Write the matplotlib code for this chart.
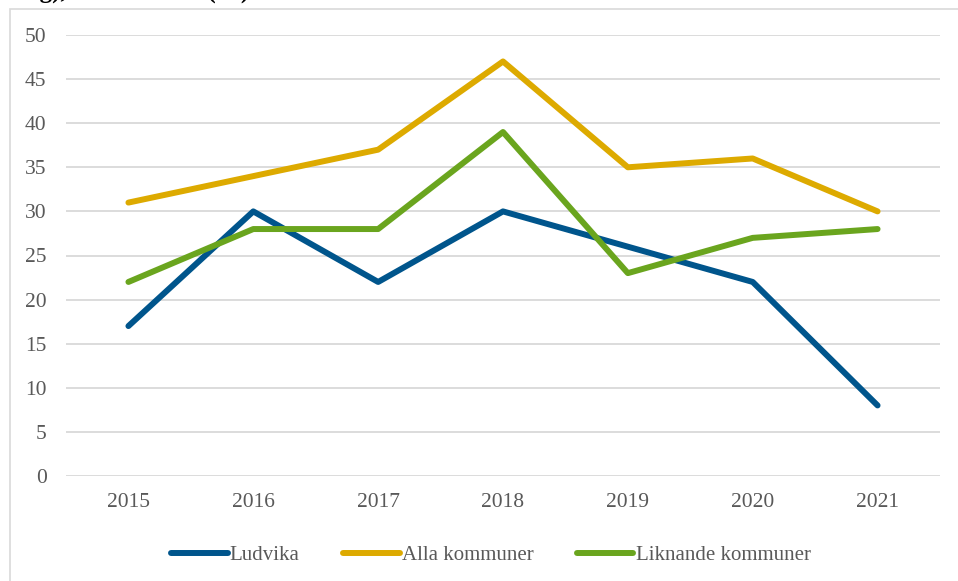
import matplotlib
matplotlib.use("Agg")
import matplotlib.pyplot as plt
from matplotlib.patches import Rectangle

years = ["2015", "2016", "2017", "2018", "2019", "2020", "2021"]
ludvika = [17, 30, 22, 30, 26, 22, 8]
alla = [31, 34, 37, 47, 35, 36, 30]
liknande = [22, 28, 28, 39, 23, 27, 28]
series_names = ["Ludvika", "Alla kommuner", "Liknande kommuner"]
yticks = [0, 5, 10, 15, 20, 25, 30, 35, 40, 45, 50]

colors = ["#00558C", "#DDAA00", "#6AA51E"]
W, H = 958, 581
fig = plt.figure(figsize=(W / 100, H / 100), dpi=100)
fig.patch.set_facecolor("white")

# outer frame
fig.patches.append(Rectangle((10 / W, -0.01), 1.0, (H - 9) / H + 0.01, transform=fig.transFigure,
                             fill=False, edgecolor="#D9D9D9", linewidth=1.2))

# cut-off title at the top (only the lower part is visible in the reference)
fig.text(5 / W, 1 + 2 / H, "ning), andel elever (%)", family="Liberation Serif", fontweight="bold",
         fontsize=18, color="black", va="baseline", ha="left")

ax = fig.add_axes([66 / W, 1 - 476 / H, (940 - 66) / W, (476 - 35) / H])
x = list(range(len(years)))
for vals, c, name in zip([ludvika, alla, liknande], colors, series_names):
    ax.plot(x, vals, color=c, linewidth=4.3, solid_capstyle="round", solid_joinstyle="round",
            label=name, zorder=3)

ax.set_xlim(-0.5, len(years) - 0.5)
ax.set_ylim(0, 50)
ax.set_yticks(yticks)
ax.set_yticklabels([str(v) for v in yticks])
ax.set_xticks(x)
ax.set_xticklabels(years)
for s in ax.spines.values():
    s.set_visible(False)
ax.grid(axis="y", color="#D9D9D9", linewidth=1.3)
ax.set_axisbelow(True)
ax.tick_params(length=0, labelsize=15.5, labelcolor="#595959")
ax.tick_params(axis="x", pad=12)
ax.tick_params(axis="y", pad=14)
for lab in ax.get_xticklabels() + ax.get_yticklabels():
    lab.set_family("Liberation Serif")

leg = fig.legend(loc="center", bbox_to_anchor=(491 / W, 1 - 555 / H), ncol=3, frameon=False,
                 prop={"family": "Liberation Serif", "size": 15}, handlelength=2.7,
                 handletextpad=0.1, columnspacing=2.1)
for t in leg.get_texts():
    t.set_color("#595959")

fig.savefig("out.png", dpi=100)
